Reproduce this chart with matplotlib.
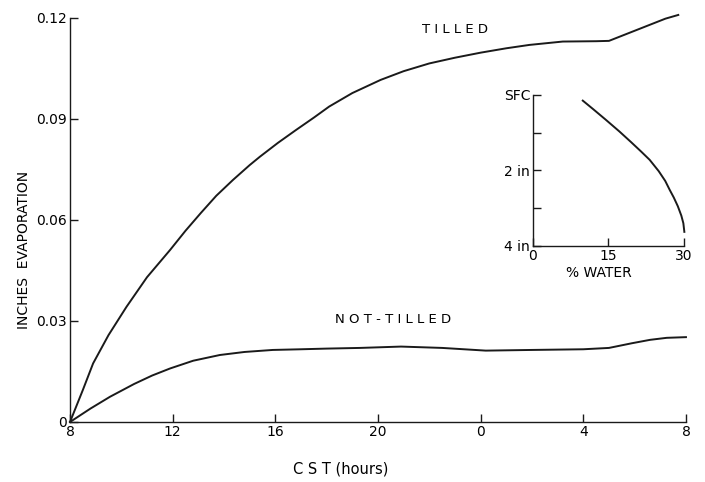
import matplotlib.pyplot as plt

# main chart: hours after 8 CST vs cumulative evaporation (inches)
hours_tilled = [0, 0.5, 0.9, 1.5, 2.2, 3.0, 3.9, 4.5, 5.1, 5.7, 6.35, 7.0, 7.4, 8.1, 8.8, 9.5, 10.1,
                11.0, 12.1, 13.0, 14.0, 15.0, 16.0, 17.0, 17.9, 19.2, 20.5, 21.0, 21.6, 22.6, 23.2, 23.7]
tilled = [0, 0.0095, 0.0174, 0.0258, 0.0342, 0.0430, 0.0511, 0.0568, 0.0621, 0.0672, 0.0719, 0.0763,
          0.0788, 0.0829, 0.0867, 0.0904, 0.0937, 0.0977, 0.1016, 0.1042, 0.1065, 0.1082, 0.1097,
          0.1110, 0.1120, 0.1130, 0.1131, 0.1132, 0.1150, 0.1180, 0.1198, 0.1209]

hours_not = [0, 0.8, 1.56, 2.5, 3.2, 3.9, 4.8, 5.84, 6.8, 7.9, 9.0, 10.0, 11.3, 12.9, 14.5, 16.2,
             18.0, 20.0, 21.0, 21.9, 22.6, 23.25, 24.0]
not_tilled = [0, 0.0040, 0.0075, 0.0113, 0.0138, 0.0159, 0.0182, 0.0199, 0.0208, 0.0214, 0.0216,
              0.0218, 0.0220, 0.0224, 0.0220, 0.0212, 0.0214, 0.0216, 0.0220, 0.0234, 0.0244,
              0.0250, 0.0252]

x_ticks = [0, 4, 8, 12, 16, 20, 24]
x_labels = ['8', '12', '16', '20', '0', '4', '8']
y_ticks = [0, 0.03, 0.06, 0.09, 0.12]
y_labels = ['0', '0.03', '0.06', '0.09', '0.12']

# inset: soil water profile
water = [9.9, 12.0, 14.5, 17.2, 19.5, 21.5, 23.2, 25.0, 26.3, 27.2, 28.0, 28.8, 29.5, 29.9, 30.1]
depth = [0.15, 0.38, 0.66, 0.97, 1.25, 1.50, 1.72, 2.02, 2.28, 2.52, 2.72, 2.95, 3.20, 3.40, 3.63]
inset_yticks = [0, 1, 2, 3, 4]
inset_ylabels = ['SFC', '', '2 in', '', '4 in']
inset_xticks = [0, 15, 30]

ink = '#1a1a1a'

fig = plt.figure(figsize=(7.05, 4.82), dpi=100)
ax = fig.add_axes([0.0993, 0.1245, 0.8737, 0.8382])

ax.plot(hours_tilled, tilled, color=ink, lw=1.4, clip_on=False)
ax.plot(hours_not, not_tilled, color=ink, lw=1.4, clip_on=False)

ax.set_xlim(0, 24)
ax.set_ylim(0, 0.12)
ax.set_xticks(x_ticks)
ax.set_xticklabels(x_labels)
ax.set_yticks(y_ticks)
ax.set_yticklabels(y_labels)
for s in ['top', 'right']:
    ax.spines[s].set_visible(False)
for s in ['left', 'bottom']:
    ax.spines[s].set_color(ink)
    ax.spines[s].set_linewidth(1.0)
ax.tick_params(direction='in', length=6, width=1.0, color=ink, labelsize=10, pad=2)

ax.set_xlabel('C S T (hours)', fontsize=10.5)
ax.xaxis.set_label_coords(0.44, -0.097)
ax.set_ylabel('INCHES  EVAPORATION', fontsize=10)
ax.yaxis.set_label_coords(-0.063, 0.426)

ax.text(15.0, 0.1165, 'T I L L E D', fontsize=9.5, ha='center', va='center')
ax.text(12.6, 0.0303, 'N O T - T I L L E D', fontsize=9.5, ha='center', va='center')

# inset
ins = fig.add_axes([0.756, 0.490, 0.214, 0.313])
ins.plot(water, depth, color=ink, lw=1.4, clip_on=False)
ins.set_xlim(0, 30)
ins.set_ylim(4, 0)
ins.set_xticks(inset_xticks)
ins.set_yticks(inset_yticks)
ins.set_yticklabels(inset_ylabels)
for s in ['top', 'right']:
    ins.spines[s].set_visible(False)
for s in ['left', 'bottom']:
    ins.spines[s].set_color(ink)
    ins.spines[s].set_linewidth(1.0)
ins.tick_params(direction='in', length=6, width=1.0, color=ink, labelsize=10, pad=2)
ins.set_xlabel('% WATER', fontsize=10)
ins.xaxis.set_label_coords(0.44, -0.137)
ins.patch.set_alpha(0)

fig.savefig('out.png', dpi=100)
